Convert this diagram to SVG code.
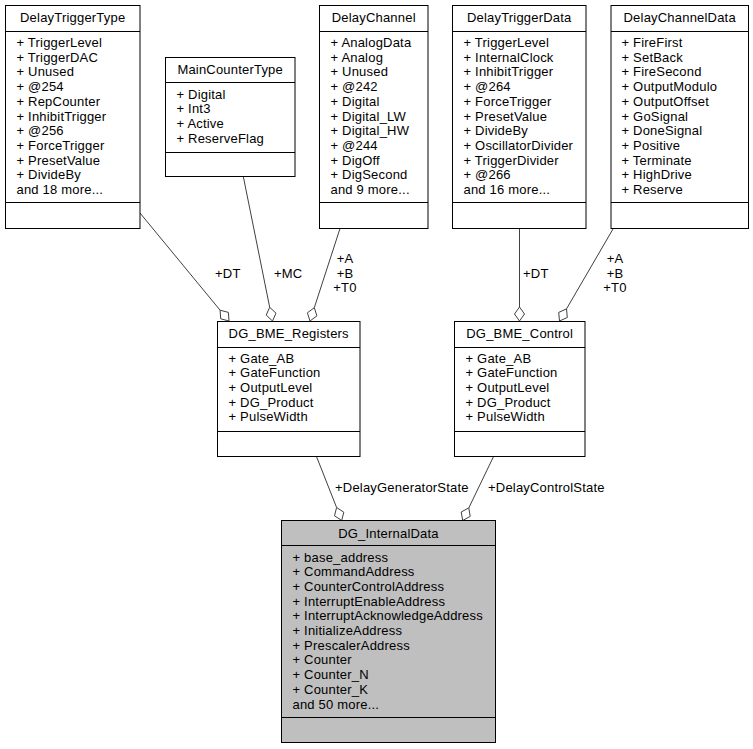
<svg xmlns="http://www.w3.org/2000/svg" width="753" height="749" viewBox="0 0 753 749">
<style>
text{font-family:"Liberation Sans",Arial,Helvetica,sans-serif;font-size:13px;letter-spacing:0.2px;fill:#000}
.t{text-anchor:middle}
.box{fill:#fff;stroke:#000;stroke-width:1}
.gray{fill:#bfbfbf}
.sep{stroke:#000;stroke-width:1}
.edge{stroke:#404040;stroke-width:1;fill:none}
.dia{fill:#fff;stroke:#404040;stroke-width:1}
.lbl{text-anchor:middle}
</style>
<rect width="753" height="749" fill="#fff"/>

<g id="connectors">
<line class="edge" x1="140" y1="213" x2="220.1" y2="310.2"/>
<polygon class="dia" points="229,321 220.7,318.8 220.1,310.2 228.4,312.4"/>
<text x="215" y="278">+DT</text>
<line class="edge" x1="243.3" y1="176.5" x2="269.7" y2="307.3"/>
<polygon class="dia" points="272.5,321 266.2,315.1 269.7,307.3 276,313.2"/>
<text x="274" y="278">+MC</text>
<line class="edge" x1="340" y1="228.5" x2="314.3" y2="307.7"/>
<polygon class="dia" points="310,321 307.4,312.8 314.3,307.7 316.9,315.9"/>
<text class="lbl" x="345" y="263">+A</text>
<text class="lbl" x="345" y="278">+B</text>
<text class="lbl" x="345" y="292">+T0</text>
<line class="edge" x1="519.5" y1="228.5" x2="519.5" y2="307"/>
<polygon class="dia" points="519.5,321 514.5,314 519.5,307 524.5,314"/>
<text x="523" y="278">+DT</text>
<line class="edge" x1="613.3" y1="228.5" x2="566.5" y2="308.9"/>
<polygon class="dia" points="559.5,321 558.7,312.4 566.5,308.9 567.3,317.5"/>
<text class="lbl" x="615" y="263">+A</text>
<text class="lbl" x="615" y="278">+B</text>
<text class="lbl" x="615" y="292">+T0</text>
<line class="edge" x1="316.7" y1="457" x2="336.6" y2="507.5"/>
<polygon class="dia" points="341.7,520.5 334.5,515.8 336.6,507.5 343.8,512.2"/>
<text x="335" y="492">+DelayGeneratorState</text>
<line class="edge" x1="493.3" y1="457" x2="468.8" y2="507.9"/>
<polygon class="dia" points="462.7,520.5 461.2,512 468.8,507.9 470.2,516.4"/>
<text x="488" y="492">+DelayControlState</text>
</g>

<g id="DelayTriggerType">
<rect class="box" x="5.5" y="5.5" width="134.5" height="223"/>
<line class="sep" x1="5.5" y1="31.5" x2="140" y2="31.5"/>
<line class="sep" x1="5.5" y1="202.5" x2="140" y2="202.5"/>
<text class="t" x="72.7" y="22">DelayTriggerType</text>
<text x="16.5" y="47">+ TriggerLevel</text>
<text x="16.5" y="61.7">+ TriggerDAC</text>
<text x="16.5" y="76.4">+ Unused</text>
<text x="16.5" y="91.1">+ @254</text>
<text x="16.5" y="105.8">+ RepCounter</text>
<text x="16.5" y="120.5">+ InhibitTrigger</text>
<text x="16.5" y="135.2">+ @256</text>
<text x="16.5" y="149.9">+ ForceTrigger</text>
<text x="16.5" y="164.6">+ PresetValue</text>
<text x="16.5" y="179.3">+ DivideBy</text>
<text x="16.5" y="194">and 18 more...</text>
</g>

<g id="MainCounterType">
<rect class="box" x="165.5" y="57.5" width="129.5" height="119"/>
<line class="sep" x1="165.5" y1="82.5" x2="295" y2="82.5"/>
<line class="sep" x1="165.5" y1="152.5" x2="295" y2="152.5"/>
<text class="t" x="230.2" y="73.5">MainCounterType</text>
<text x="176.5" y="98.5">+ Digital</text>
<text x="176.5" y="113.2">+ Int3</text>
<text x="176.5" y="127.9">+ Active</text>
<text x="176.5" y="142.6">+ ReserveFlag</text>
</g>

<g id="DelayChannel">
<rect class="box" x="319.5" y="5.5" width="108.5" height="223"/>
<line class="sep" x1="319.5" y1="31.5" x2="428" y2="31.5"/>
<line class="sep" x1="319.5" y1="202.5" x2="428" y2="202.5"/>
<text class="t" x="373.7" y="22">DelayChannel</text>
<text x="330.5" y="47">+ AnalogData</text>
<text x="330.5" y="61.7">+ Analog</text>
<text x="330.5" y="76.4">+ Unused</text>
<text x="330.5" y="91.1">+ @242</text>
<text x="330.5" y="105.8">+ Digital</text>
<text x="330.5" y="120.5">+ Digital_LW</text>
<text x="330.5" y="135.2">+ Digital_HW</text>
<text x="330.5" y="149.9">+ @244</text>
<text x="330.5" y="164.6">+ DigOff</text>
<text x="330.5" y="179.3">+ DigSecond</text>
<text x="330.5" y="194">and 9 more...</text>
</g>

<g id="DelayTriggerData">
<rect class="box" x="452.5" y="5.5" width="133.5" height="223"/>
<line class="sep" x1="452.5" y1="31.5" x2="586" y2="31.5"/>
<line class="sep" x1="452.5" y1="202.5" x2="586" y2="202.5"/>
<text class="t" x="519.2" y="22">DelayTriggerData</text>
<text x="463.5" y="47">+ TriggerLevel</text>
<text x="463.5" y="61.7">+ InternalClock</text>
<text x="463.5" y="76.4">+ InhibitTrigger</text>
<text x="463.5" y="91.1">+ @264</text>
<text x="463.5" y="105.8">+ ForceTrigger</text>
<text x="463.5" y="120.5">+ PresetValue</text>
<text x="463.5" y="135.2">+ DivideBy</text>
<text x="463.5" y="149.9">+ OscillatorDivider</text>
<text x="463.5" y="164.6">+ TriggerDivider</text>
<text x="463.5" y="179.3">+ @266</text>
<text x="463.5" y="194">and 16 more...</text>
</g>

<g id="DelayChannelData">
<rect class="box" x="611" y="5.5" width="137.5" height="223"/>
<line class="sep" x1="611" y1="31.5" x2="748.5" y2="31.5"/>
<line class="sep" x1="611" y1="202.5" x2="748.5" y2="202.5"/>
<text class="t" x="679.7" y="22">DelayChannelData</text>
<text x="621.5" y="47">+ FireFirst</text>
<text x="621.5" y="61.7">+ SetBack</text>
<text x="621.5" y="76.4">+ FireSecond</text>
<text x="621.5" y="91.1">+ OutputModulo</text>
<text x="621.5" y="105.8">+ OutputOffset</text>
<text x="621.5" y="120.5">+ GoSignal</text>
<text x="621.5" y="135.2">+ DoneSignal</text>
<text x="621.5" y="149.9">+ Positive</text>
<text x="621.5" y="164.6">+ Terminate</text>
<text x="621.5" y="179.3">+ HighDrive</text>
<text x="621.5" y="194">+ Reserve</text>
</g>

<g id="DG_BME_Registers">
<rect class="box" x="217.5" y="321.5" width="142.5" height="135"/>
<line class="sep" x1="217.5" y1="347.5" x2="360" y2="347.5"/>
<line class="sep" x1="217.5" y1="431.5" x2="360" y2="431.5"/>
<text class="t" x="288.7" y="338">DG_BME_Registers</text>
<text x="228.5" y="362.5">+ Gate_AB</text>
<text x="228.5" y="377.2">+ GateFunction</text>
<text x="228.5" y="391.9">+ OutputLevel</text>
<text x="228.5" y="406.6">+ DG_Product</text>
<text x="228.5" y="421.3">+ PulseWidth</text>
</g>

<g id="DG_BME_Control">
<rect class="box" x="454.5" y="321.5" width="130.5" height="135"/>
<line class="sep" x1="454.5" y1="347.5" x2="585" y2="347.5"/>
<line class="sep" x1="454.5" y1="431.5" x2="585" y2="431.5"/>
<text class="t" x="519.7" y="338">DG_BME_Control</text>
<text x="465.5" y="362.5">+ Gate_AB</text>
<text x="465.5" y="377.2">+ GateFunction</text>
<text x="465.5" y="391.9">+ OutputLevel</text>
<text x="465.5" y="406.6">+ DG_Product</text>
<text x="465.5" y="421.3">+ PulseWidth</text>
</g>

<g id="DG_InternalData">
<rect class="box gray" x="281.5" y="520.5" width="214" height="222"/>
<line class="sep" x1="281.5" y1="545.5" x2="495.5" y2="545.5"/>
<line class="sep" x1="281.5" y1="717.5" x2="495.5" y2="717.5"/>
<text class="t" x="388.5" y="538">DG_InternalData</text>
<text x="292.5" y="561.5">+ base_address</text>
<text x="292.5" y="576.2">+ CommandAddress</text>
<text x="292.5" y="590.9">+ CounterControlAddress</text>
<text x="292.5" y="605.6">+ InterruptEnableAddress</text>
<text x="292.5" y="620.3">+ InterruptAcknowledgeAddress</text>
<text x="292.5" y="635">+ InitializeAddress</text>
<text x="292.5" y="649.7">+ PrescalerAddress</text>
<text x="292.5" y="664.4">+ Counter</text>
<text x="292.5" y="679.1">+ Counter_N</text>
<text x="292.5" y="693.8">+ Counter_K</text>
<text x="292.5" y="708.5">and 50 more...</text>
</g>
</svg>
